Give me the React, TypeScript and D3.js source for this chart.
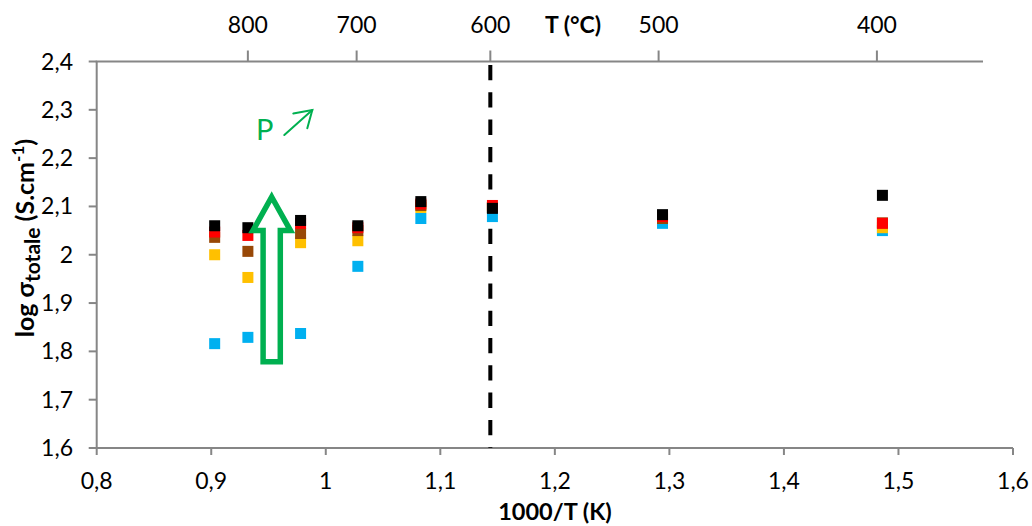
import React from "react";
import * as d3 from "d3";

// 1000/T (K) of each measurement temperature
const invT = [0.903, 0.932, 0.978, 1.028, 1.083, 1.1455, 1.294, 1.486];

// log sigma totale for each series (drawn in this order, last on top)
const seriesBlue = [1.816, 1.829, 1.837, 1.976, 2.075, 2.079, 2.065, 2.05];
const seriesYellow = [2.0, 1.953, 2.025, 2.029, 2.098, 2.098, 2.077, 2.056];
const seriesBrown = [2.036, 2.007, 2.044, 2.05, 2.102, 2.098, 2.075, 2.066];
const seriesRed = [2.047, 2.04, 2.065, 2.056, 2.105, 2.102, 2.079, 2.065];
const seriesBlack = [2.06, 2.056, 2.071, 2.06, 2.11, 2.096, 2.083, 2.123];

const seriesList = [
  { name: "blue", values: seriesBlue, color: "#00B0F0" },
  { name: "yellow", values: seriesYellow, color: "#FFC000" },
  { name: "brown", values: seriesBrown, color: "#984807" },
  { name: "red", values: seriesRed, color: "#FF0000" },
  { name: "black", values: seriesBlack, color: "#000000" },
];

// top axis: temperatures in °C
const topTicksC = [800, 700, 600, 500, 400];
// vertical dashed reference temperature (°C)
const dashedC = 600;

const xDomain = [0.8, 1.6];
const yDomain = [1.6, 2.4];

const FONT = "Lato, 'Open Sans', sans-serif";
const AXIS = "#868686";

const fmt = (v: number) => String(+v.toFixed(1)).replace(".", ",");

export default function App() {
  const W = 1032;
  const H = 526;
  const x = d3.scaleLinear().domain(xDomain).range([96.7, 1013]);
  // secondary (top) axis, slightly different scaling as in the original
  const xTop = d3.scaleLinear().domain(xDomain).range([98, 1006.5]);
  const y = d3.scaleLinear().domain(yDomain).range([448, 61.5]);
  const xTicks = d3.range(8, 17).map((d) => d / 10);
  const yTicks = d3.range(16, 25).map((d) => d / 10);
  const ms = 11;
  const cToInv = (c: number) => 1000 / (c + 273);

  // green block arrow in data coords
  const ax = x.invert(271.7);
  const arrowPts = (() => {
    const cx = x(ax);
    const tip = y(2.1196);
    const base = y(2.05);
    const bottom = y(1.7785);
    const hw = 18.8;
    const sw = 8.6;
    return [
      [cx, tip],
      [cx + hw, base],
      [cx + sw, base],
      [cx + sw, bottom],
      [cx - sw, bottom],
      [cx - sw, base],
      [cx - hw, base],
    ];
  })();
  const line = d3.line();

  return (
    <svg
      width={W}
      height={H}
      style={{ position: "absolute", left: 0, top: 0, display: "block", background: "#fff" }}
      fontFamily={FONT}
    >
      <rect x={0} y={0} width={W} height={H} fill="#fff" />

      {/* axes lines */}
      <line x1={x(0.8)} x2={x(1.6)} y1={y(1.6)} y2={y(1.6)} stroke={AXIS} strokeWidth={2} />
      <line x1={x(0.8)} x2={x(0.8)} y1={y(1.6)} y2={y(2.4)} stroke={AXIS} strokeWidth={2} />
      <line x1={x(0.8) - 1} x2={983} y1={y(2.4)} y2={y(2.4)} stroke={AXIS} strokeWidth={2} />

      {/* bottom ticks */}
      {xTicks.map((t) => (
        <g key={"bx" + t}>
          <line x1={x(t)} x2={x(t)} y1={y(1.6)} y2={y(1.6) + 7} stroke={AXIS} strokeWidth={2} />
          <text x={x(t)} y={489} fontSize={23} textAnchor="middle" fill="#000">
            {fmt(t)}
          </text>
        </g>
      ))}

      {/* left ticks */}
      {yTicks.map((t) => (
        <g key={"ly" + t}>
          <line x1={x(0.8) - 8} x2={x(0.8)} y1={y(t)} y2={y(t)} stroke={AXIS} strokeWidth={2} />
          <text x={73} y={y(t) + 8} fontSize={23} textAnchor="end" fill="#000">
            {fmt(t)}
          </text>
        </g>
      ))}

      {/* top ticks (T in °C) */}
      {topTicksC.map((t) => {
        const px = xTop(cToInv(t));
        return (
          <g key={"tc" + t}>
            <line x1={px} x2={px} y1={y(2.4)} y2={y(2.4) - 11} stroke={AXIS} strokeWidth={2} />
            <text x={px} y={33} fontSize={23} textAnchor="middle" fill="#000">
              {t}
            </text>
          </g>
        );
      })}
      <text x={573} y={33} fontSize={23} fontWeight="bold" textAnchor="middle" fill="#000">
        T (°C)
      </text>

      {/* dashed line */}
      <line
        x1={xTop(cToInv(dashedC))}
        x2={xTop(cToInv(dashedC))}
        y1={y(2.4)}
        y2={y(1.6)}
        stroke="#000"
        strokeWidth={4}
        strokeDasharray="15.3 12"
        strokeDashoffset={-3.5}
      />

      {/* markers */}
      {seriesList.map((s) => (
        <g key={s.name}>
          {s.values.map((v, i) => (
            <rect
              key={i}
              x={x(invT[i]) - ms / 2}
              y={y(v) - ms / 2}
              width={ms}
              height={ms}
              fill={s.color}
            />
          ))}
        </g>
      ))}

      {/* green block arrow */}
      <path
        d={line(arrowPts as [number, number][]) + "Z"}
        fill="none"
        stroke="#00B050"
        strokeWidth={5.5}
        strokeLinejoin="miter"
      />

      {/* P annotation */}
      <text x={256} y={140} fontSize={29} fill="#00B050">
        P
      </text>
      <g stroke="#00B050" strokeWidth={2} fill="none" strokeLinecap="round">
        <line x1={284.3} y1={135} x2={312.3} y2={110} />
        <polyline points="293.3,113.5 312.3,110 307.3,128.3" />
      </g>

      {/* axis titles */}
      <text x={555} y={520} fontSize={23.5} fontWeight="bold" textAnchor="middle" fill="#000">
        1000/T (K)
      </text>
      <text
        transform="translate(34,238) rotate(-90)"
        fontSize={25}
        fontWeight="bold"
        textAnchor="middle"
        fill="#000"
      >
        log σ
        <tspan fontSize={21} dy={6}>totale</tspan>
        <tspan dy={-6}> (S.cm</tspan>
        <tspan fontSize={17} dy={-10}>-1</tspan>
        <tspan dy={10}>)</tspan>
      </text>
    </svg>
  );
}
